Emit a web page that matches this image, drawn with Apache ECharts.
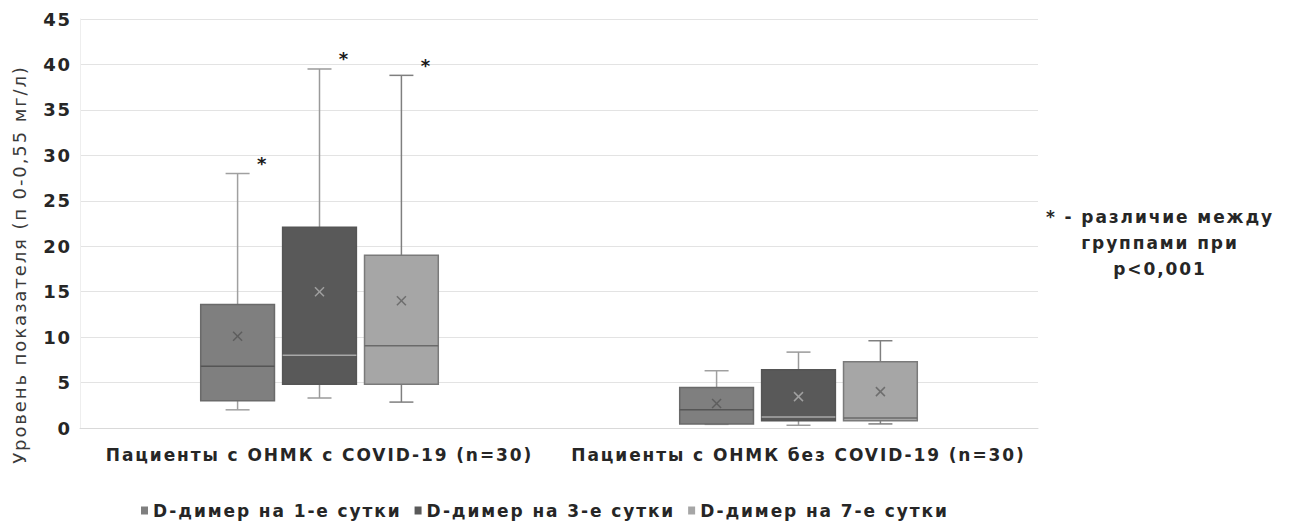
<!DOCTYPE html>
<html>
<head>
<meta charset="utf-8">
<script src="https://cdn.jsdelivr.net/npm/echarts@6/dist/echarts.min.js"></script>
<style>
  html, body { margin: 0; padding: 0; background: #fff; }
  #chart { width: 1290px; height: 521px; }
  /* loose tracking for all chart text */
  #chart svg text { letter-spacing: 1.9px; }
</style>
</head>
<body>
<div id="chart"></div>
<script>
// Groups of patients (x categories)
const categories = ['Пациенты с ОНМК с COVID-19 (n=30)', 'Пациенты с ОНМК без COVID-19 (n=30)'];
const seriesNames = ['D-димер на 1-е сутки', 'D-димер на 3-е сутки', 'D-димер на 7-е сутки'];

// Box statistics per group: [min, Q1, median, Q3, max]
const day1Box = [[2.0, 3.0, 6.8, 13.6, 28.0], [0.4, 0.45, 2.0, 4.45, 6.3]];
const day3Box = [[3.3, 4.8, 8.0, 22.1, 39.5], [0.3, 0.8, 1.2, 6.4, 8.35]];
const day7Box = [[2.85, 4.8, 9.05, 19.0, 38.8], [0.45, 0.8, 1.1, 7.3, 9.6]];

// Mean values per group
const day1Mean = [10.1, 2.7];
const day3Mean = [15.0, 3.45];
const day7Mean = [14.0, 4.0];

// Significant difference between groups (asterisk), per group
const day1Sig = [1, 0];
const day3Sig = [1, 0];
const day7Sig = [1, 0];

// Y axis ticks
const yMin = 0, yMax = 45, yStep = 5;

const FONT = '"DejaVu Sans", sans-serif';

const styles = [
  { fill: '#7f7f7f', border: '#6a6a6a', median: '#555555', whisker: '#a0a0a0', mean: '#5e5e5e' },
  { fill: '#595959', border: '#555555', median: '#a8a8a8', whisker: '#9a9a9a', mean: '#a0a0a0' },
  { fill: '#a6a6a6', border: '#7a7a7a', median: '#6a6a6a', whisker: '#7f7f7f', mean: '#6e6e6e' }
];

function rows(box, mean, sig) {
  return box.map((b, i) => [i, b[0], b[1], b[2], b[3], b[4], mean[i], sig[i]]);
}

function makeRender(k) {
  const st = styles[k];
  return function (params, api) {
    const c = api.value(0);
    const band = api.size([1, 0])[0];
    const cx = api.coord([c, 0])[0] + (k - 1) * band * 0.171;
    const w = band * 0.154;
    const y = v => api.coord([c, v])[1];
    const vmin = api.value(1), q1 = api.value(2), med = api.value(3),
          q3 = api.value(4), vmax = api.value(5), mean = api.value(6), sig = api.value(7);
    const cap = 12;
    const ls = { stroke: st.whisker, lineWidth: 1.5 };
    const children = [
      { type: 'line', shape: { x1: cx, y1: y(q3), x2: cx, y2: y(vmax) }, style: ls },
      { type: 'line', shape: { x1: cx - cap, y1: y(vmax), x2: cx + cap, y2: y(vmax) }, style: ls },
      { type: 'line', shape: { x1: cx, y1: y(q1), x2: cx, y2: y(vmin) }, style: ls },
      { type: 'line', shape: { x1: cx - cap, y1: y(vmin), x2: cx + cap, y2: y(vmin) }, style: ls },
      { type: 'rect', shape: { x: cx - w / 2, y: y(q3), width: w, height: y(q1) - y(q3) },
        style: { fill: st.fill, stroke: st.border, lineWidth: 1.5 } },
      { type: 'line', shape: { x1: cx - w / 2, y1: y(med), x2: cx + w / 2, y2: y(med) },
        style: { stroke: st.median, lineWidth: 1.5 } }
    ];
    const my = y(mean), m = 4.5;
    children.push(
      { type: 'line', shape: { x1: cx - m, y1: my - m, x2: cx + m, y2: my + m }, style: { stroke: st.mean, lineWidth: 1.5 } },
      { type: 'line', shape: { x1: cx - m, y1: my + m, x2: cx + m, y2: my - m }, style: { stroke: st.mean, lineWidth: 1.5 } }
    );
    if (sig) {
      children.push({
        type: 'text',
        style: {
          x: cx + 25, y: y(vmax) - 10, text: '*', fill: '#1a1a1a',
          font: 'bold 18px "DejaVu Sans"', align: 'center', verticalAlign: 'middle'
        }
      });
    }
    return { type: 'group', children };
  };
}

const allData = [rows(day1Box, day1Mean, day1Sig), rows(day3Box, day3Mean, day3Sig), rows(day7Box, day7Mean, day7Sig)];

const chart = echarts.init(document.getElementById('chart'), null, { renderer: 'svg' });
chart.setOption({
  animation: false,
  textStyle: { fontFamily: FONT },
  grid: { left: 80, right: 252, top: 19, bottom: 93 },
  xAxis: {
    type: 'category',
    data: categories,
    axisLine: { lineStyle: { color: '#d9d9d9' } },
    axisTick: { show: false },
    axisLabel: { interval: 0, color: '#262626', fontSize: 17, fontWeight: 'bold', margin: 18, fontFamily: FONT }
  },
  yAxis: {
    type: 'value',
    min: yMin, max: yMax, interval: yStep,
    name: 'Уровень показателя (п 0-0,55 мг/л)',
    nameLocation: 'middle', nameRotate: 90, nameGap: 52,
    nameTextStyle: { color: '#3a3a3a', fontSize: 18, fontFamily: FONT, padding: [0, 82, 0, 0] },
    axisLine: { show: true, lineStyle: { color: '#eeeeee' } },
    axisTick: { show: false },
    axisLabel: { color: '#262626', fontSize: 18, fontWeight: 'bold', margin: 8, fontFamily: FONT },
    splitLine: { lineStyle: { color: '#e3e3e3' } }
  },
  legend: {
    left: 136, top: 497,
    itemWidth: 7, itemHeight: 8, itemGap: 51,
    icon: 'rect',
    textStyle: { color: '#262626', fontSize: 17, fontWeight: 'bold', fontFamily: FONT },
    data: seriesNames
  },
  graphic: [{
    type: 'text', x: 1160, y: 204,
    style: {
      text: '* - различие между\nгруппами при\np<0,001',
      fill: '#262626', font: 'bold 17px "DejaVu Sans"', align: 'center', verticalAlign: 'top', lineHeight: 26
    }
  }],
  series: [0, 1, 2].map(k => ({
    type: 'custom',
    name: seriesNames[k],
    renderItem: makeRender(k),
    itemStyle: { color: styles[k].fill },
    encode: { x: 0, y: [1, 2, 3, 4, 5, 6] },
    data: allData[k]
  }))
});
</script>
</body>
</html>
